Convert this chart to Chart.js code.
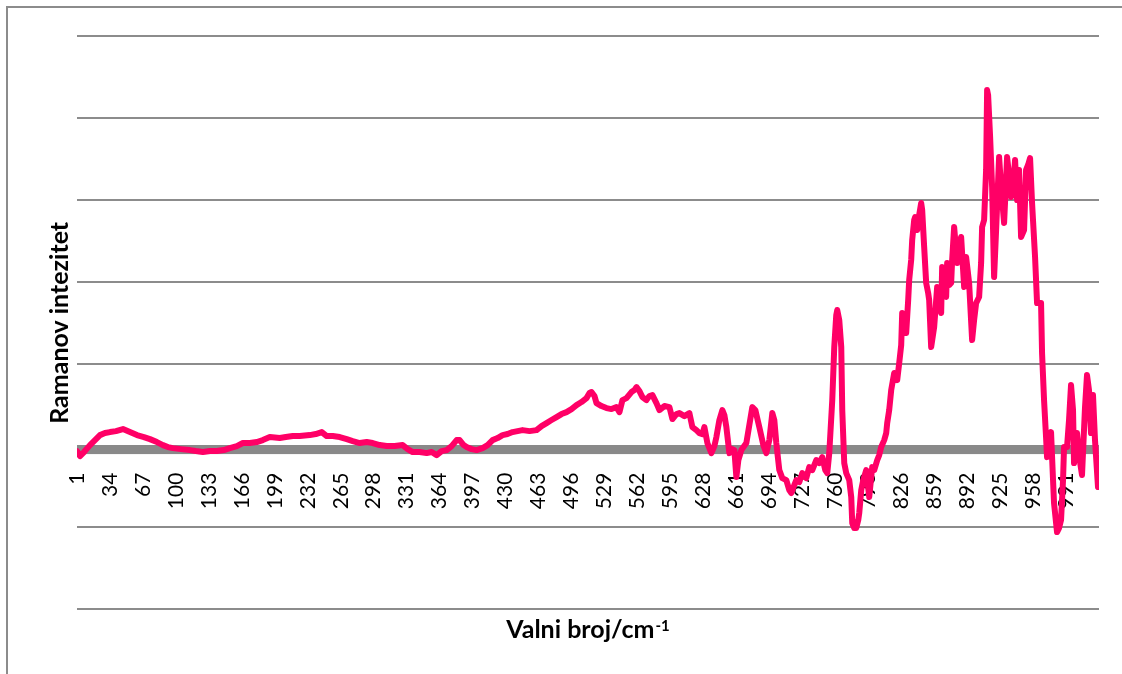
<!DOCTYPE html>
<html>
<head>
<meta charset="utf-8">
<script src="https://cdn.jsdelivr.net/npm/chart.js@4/dist/chart.umd.min.js"></script>
<style>
  html, body { margin: 0; padding: 0; background: #fff; }
  canvas { display: block; }
</style>
</head>
<body>
<canvas id="raman" width="1122" height="674"></canvas>
<script>
// Category ticks shown under the zero line
const tickLabels = [1, 34, 67, 100, 133, 166, 199, 232, 265, 298, 331, 364, 397, 430, 463, 496,
  529, 562, 595, 628, 661, 694, 727, 760, 793, 826, 859, 892, 925, 958, 991];

// Spectrum: channel index and Raman intensity
const channel = [
  1, 4, 8, 14, 19, 24, 29, 34, 40, 47,
  54, 61, 68, 74, 81, 87, 92, 97, 105, 114,
  120, 127, 134, 141, 148, 154, 161, 167, 174, 181,
  187, 194, 204, 210, 217, 224, 234, 240, 246, 251,
  257, 264, 271, 277, 284, 291, 297, 304, 311, 319,
  327, 332, 337, 344, 351, 356, 361, 366, 371, 376,
  381, 384, 388, 391, 396, 401, 407, 412, 417, 422,
  427, 432, 437, 442, 447, 454, 461, 466, 471, 476,
  481, 486, 491, 496, 501, 506, 511, 514, 516, 519,
  521, 526, 531, 536, 541, 544, 547, 551, 556, 559,
  561, 564, 567, 571, 574, 577, 581, 584, 589, 594,
  597, 601, 604, 609, 614, 617, 621, 624, 627, 629,
  632, 636, 639, 641, 644, 647, 649, 651, 654, 657,
  659, 661, 663, 666, 671, 674, 677, 680, 684, 688,
  691, 694, 697, 699, 701, 704, 707, 711, 714, 716,
  719, 721, 724, 727, 731, 734, 737, 741, 744, 747,
  750, 752, 754, 757, 759, 761, 762, 764, 766, 767,
  769, 771, 774, 776, 777, 779, 781, 783, 784, 786,
  788, 791, 794, 797, 799, 802, 804, 806, 809, 811,
  812, 814, 816, 819, 822, 824, 826, 827, 829, 831,
  833, 834, 836, 837, 839, 840, 842, 844, 846, 847,
  849, 851, 853, 854, 856, 859, 862, 864, 866, 867,
  869, 871, 872, 874, 876, 877, 879, 882, 884, 886,
  889, 891, 894, 897, 899, 901, 904, 906, 907, 909,
  911, 912, 913, 915, 917, 919, 921, 924, 926, 929,
  932, 934, 936, 938, 940, 942, 944, 946, 949, 951,
  953, 955, 957, 960, 962, 966, 967, 969, 971, 972,
  974, 976, 978, 979, 982, 984, 986, 988, 989, 992,
  994, 996, 998, 999, 1002, 1004, 1007, 1010, 1012, 1014,
  1016, 1018, 1020, 1023
];

const intensity = [
  -67, -128, -79, 6, 67, 128, 153, 165, 177, 202,
  165, 128, 104, 79, 43, 6, -18, -31, -43, -55,
  -67, -79, -67, -67, -55, -31, -6, 31, 31, 43,
  67, 104, 92, 104, 116, 116, 128, 141, 165, 116,
  116, 104, 79, 55, 31, 43, 31, 6, -6, -6,
  6, -43, -79, -79, -92, -79, -116, -67, -55, -6,
  67, 67, 6, -18, -43, -55, -31, 6, 67, 92,
  128, 141, 165, 177, 189, 177, 189, 238, 275, 312,
  348, 385, 409, 446, 495, 532, 580, 642, 654, 605,
  519, 483, 458, 446, 470, 409, 556, 580, 654, 678,
  715, 666, 593, 556, 605, 617, 519, 434, 483, 470,
  324, 385, 397, 360, 397, 226, 189, 153, 141, 226,
  31, -92, -6, 104, 312, 434, 373, 226, -92, -43,
  -55, -385, -177, -55, 31, 251, 470, 434, 226, 6,
  -92, 67, 397, 312, 31, -299, -397, -422, -544, -580,
  -483, -422, -446, -336, -397, -263, -299, -177, -214, -141,
  -299, -336, -92, 556, 1204, 1595, 1656, 1534, 1204, 434,
  -214, -336, -422, -629, -947, -1008, -1008, -910, -825, -544,
  -422, -299, -629, -263, -299, -177, -116, -18, 67, 153,
  275, 434, 678, 886, 800, 1008, 1228, 1619, 1534, 1375,
  1778, 2022, 2267, 2511, 2756, 2792, 2633, 2817, 2963, 2878,
  2426, 1986, 1864, 1778, 1204, 1448, 1937, 1778, 1619, 2181,
  2022, 1815, 2230, 1961, 1986, 2267, 2670, 2230, 2450, 2548,
  1937, 2303, 1986, 1289, 1534, 1741, 1815, 2230, 2670, 2756,
  3367, 4344, 4283, 3770, 3159, 2059, 2633, 3525, 3159, 2719,
  3525, 3306, 3037, 3183, 3489, 3000, 3367, 2548, 2633, 3367,
  3428, 3513, 2963, 2303, 1741, 1741, 1130, 556, 104, -141,
  67, 165, -422, -703, -1057, -1008, -910, -422, -18, -18,
  312, 739, 434, -214, 153, -116, -360, 470, 862, 678,
  153, 617, 67, -507
];

const axisTitleX = 'Valni broj/cm';
const axisTitleXSup = '-1';
const axisTitleY = 'Ramanov intezitet';

const GRID = '#8c8c8c';
const FONT = 'Lato';

// Outer frame, the heavy zero line and the x-axis title with its superscript
const decorations = {
  id: 'decorations',
  beforeDraw(chart) {
    const ctx = chart.ctx;
    ctx.save();
    ctx.strokeStyle = GRID;
    ctx.lineWidth = 2;
    ctx.beginPath();
    ctx.moveTo(7, chart.height);
    ctx.lineTo(7, 7);
    ctx.lineTo(chart.width, 7);
    ctx.stroke();
    ctx.restore();
  },
  beforeDatasetsDraw(chart) {
    const {ctx, chartArea} = chart;
    const y0 = chart.scales.y.getPixelForValue(0);
    ctx.save();
    ctx.fillStyle = '#898989';
    ctx.fillRect(chartArea.left, y0 - 0.5, chartArea.right - chartArea.left, 9);
    ctx.restore();
  },
  afterDraw(chart) {
    const {ctx, chartArea} = chart;
    ctx.save();
    ctx.fillStyle = '#000';
    ctx.textBaseline = 'alphabetic';
    ctx.textAlign = 'left';
    const mainFont = `bold 25px ${FONT}`;
    const supFont = `bold 15px ${FONT}`;
    ctx.font = mainFont;
    const w1 = ctx.measureText(axisTitleX).width;
    ctx.font = supFont;
    const w2 = ctx.measureText(axisTitleXSup).width;
    const cx = (chartArea.left + chartArea.right) / 2;
    const x0 = cx - (w1 + w2 + 1) / 2;
    const base = 638;
    ctx.font = mainFont;
    ctx.fillText(axisTitleX, x0, base);
    ctx.font = supFont;
    ctx.fillText(axisTitleXSup, x0 + w1 + 1, base - 7);
    ctx.restore();
  }
};

new Chart(document.getElementById('raman'), {
  type: 'line',
  data: {
    datasets: [{
      data: channel.map((c, i) => ({ x: c, y: intensity[i] })),
      borderColor: '#FF0066',
      borderWidth: 6,
      pointRadius: 0,
      tension: 0,
      fill: false,
      borderJoinStyle: 'round',
      borderCapStyle: 'round'
    }]
  },
  options: {
    responsive: false,
    animation: false,
    events: [],
    layout: { padding: { left: 0, top: 36.3, right: 23, bottom: 64.7 } },
    plugins: { legend: { display: false }, tooltip: { enabled: false } },
    scales: {
      x: {
        type: 'linear',
        position: { y: 0 },
        min: 1,
        max: 1024,
        afterBuildTicks: s => { s.ticks = tickLabels.map(v => ({ value: v })); },
        afterFit: s => { s.height = 0; },
        grid: { display: false },
        border: { display: false },
        ticks: {
          minRotation: 90,
          maxRotation: 90,
          autoSkip: false,
          padding: 19,
          color: '#000',
          font: { family: FONT, size: 21 }
        }
      },
      y: {
        min: -2000,
        max: 5000,
        ticks: { display: false, stepSize: 1000 },
        grid: { color: GRID, lineWidth: 2, drawTicks: false },
        border: { display: false },
        afterFit: s => { s.width = 77; },
        title: {
          display: true,
          text: axisTitleY,
          color: '#000',
          font: { family: FONT, size: 25, weight: 'bold' },
          padding: { top: 45, bottom: 0 }
        }
      }
    }
  },
  plugins: [decorations]
});
</script>
</body>
</html>
